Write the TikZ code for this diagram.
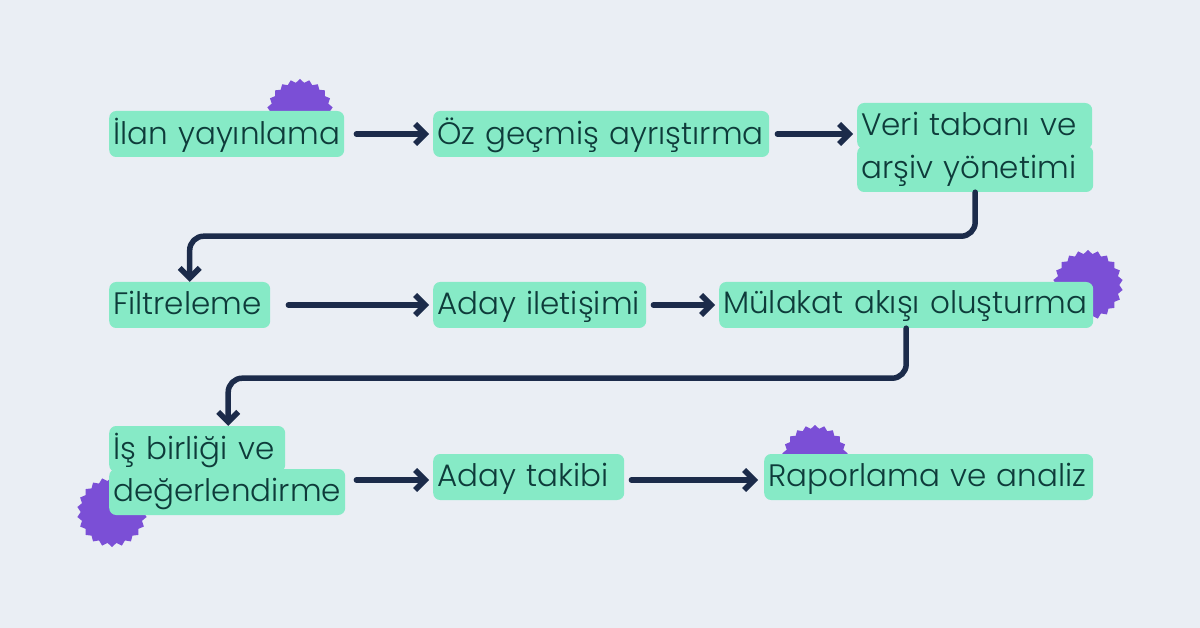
\documentclass[tikz,border=0pt]{standalone}
\usepackage{fontspec}
\setmainfont{Poppins}[UprightFont=* Light]
\usetikzlibrary{arrows.meta,shapes.geometric,calc}
\definecolor{bg}{HTML}{EAEEF4}
\definecolor{hlc}{HTML}{86EAC6}
\definecolor{txt}{HTML}{0E3B3A}
\definecolor{pur}{HTML}{7B4FD6}
\definecolor{nav}{HTML}{1C2B4A}
\hbadness=10000 \hfuzz=100pt
\begin{document}
\begin{tikzpicture}[x=1pt,y=-1pt,
 hl/.style={fill=hlc,rounded corners=7pt,anchor=west,text=txt,font=\fontsize{31}{34}\selectfont,inner xsep=4pt,inner ysep=0pt,minimum height=46pt,text depth=5pt,align=left,text width=#1-8pt},
 arr/.style={draw=nav,line width=5.5pt,line cap=round,line join=round,-{Straight Barb[length=10pt,width=20pt,line width=5.5pt]}},
 burst/.style={star,star points=22,star point ratio=1.12,fill=pur,inner sep=0pt}]
\fill[bg] (0,0) rectangle (1200,628);
\useasboundingbox (0,0) rectangle (1200,628);
% bursts
\node[burst,minimum size=66pt] (s1) at (300,112) {};
\node[burst,minimum size=70pt] (s2) at (1088,285) {};
\node[burst,minimum size=70pt] (s3) at (112,512) {};
\node[burst,minimum size=66pt] (s4) at (815,458) {};
\fill[bg] (250,112) rectangle (350,160);
\fill[bg] (760,458) rectangle (870,500);
% boxes
\node[hl=235pt] (n1) at (109,134) {\mbox{İlan yayınlama}};
\node[hl=336pt] (n2) at (433,134) {\mbox{Öz geçmiş ayrıştırma}};
\node[hl=235pt] (n3a) at (857,126) {\mbox{Veri tabanı ve}};
\node[hl=236pt] (n3b) at (857,169) {\mbox{arşiv yönetimi}};
\node[hl=161pt] (n4) at (109,305) {\mbox{Filtreleme}};
\node[hl=213pt] (n5) at (433,305) {\mbox{Aday iletişimi}};
\node[hl=374pt] (n6) at (719,305) {\mbox{Mülakat akışı oluşturma}};
\node[hl=176pt] (n7a) at (109,449) {\mbox{İş birliği ve}};
\node[hl=236pt] (n7b) at (109,492) {\mbox{değerlendirme}};
\node[hl=191pt] (n8) at (433,477) {\mbox{Aday takibi}};
\node[hl=329pt] (n9) at (764,477) {\mbox{Raporlama ve analiz}};
% connectors
\draw[arr] ($(n1.east)+(12,0)$) -- ($(n2.west)+(-4,0)$);
\draw[arr] ($(n2.east)+(8,0)$) -- ($(n3b.west)+(-4,-35)$);
\draw[arr,rounded corners=14pt] (n3b.south) -- ++(0,44) -| (n4.north);
\draw[arr] ($(n4.east)+(18,0)$) -- ($(n5.west)+(-4,0)$);
\draw[arr] ($(n5.east)+(7,0)$) -- ($(n6.west)+(-4,0)$);
\draw[arr,rounded corners=14pt] (n6.south) -- ++(0,50) -| ($(n7a.north)+(31,0)$);
\draw[arr] ($(n7b.east |- n8.west)+(11,3)$) -- ($(n8.west)+(-4,3)$);
\draw[arr] ($(n8.east)+(7,3)$) -- ($(n9.west)+(-6,3)$);
\end{tikzpicture}
\end{document}
